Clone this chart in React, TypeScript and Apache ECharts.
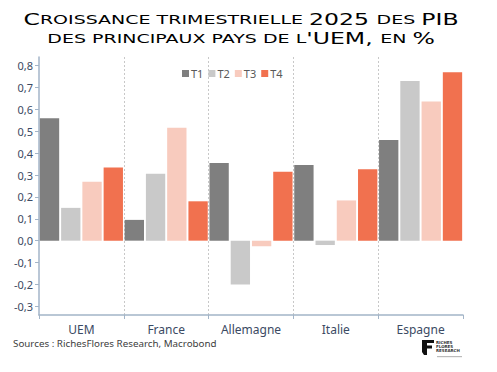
import React, { useEffect, useRef } from "react";
import * as echarts from "echarts";

const categories = ["UEM", "France", "Allemagne", "Italie", "Espagne"];
const seriesNames = ["T1", "T2", "T3", "T4"];
const t1 = [0.56, 0.095, 0.355, 0.346, 0.46];
const t2 = [0.15, 0.306, -0.2, -0.02, 0.73];
const t3 = [0.27, 0.516, -0.026, 0.184, 0.636];
const t4 = [0.335, 0.18, 0.315, 0.327, 0.77];
const yTicks = [-0.3, -0.2, -0.1, 0, 0.1, 0.2, 0.3, 0.4, 0.5, 0.6, 0.7, 0.8];
const colors = ["#7f7f7f", "#c9c9c9", "#f8cbbe", "#f1714f"];
const titleLine1 = "Croissance trimestrielle 2025 des PIB";
const titleLine2 = "des principaux pays de l'UEM, en %";
const sourceText = "Sources : RichesFlores Research, Macrobond";

function smallCaps(s: string): string {
  let out = "";
  let cur = "";
  let curStyle = "";
  for (const ch of s) {
    const isLower = ch !== ch.toUpperCase();
    const st = ch === " " ? curStyle || "s" : isLower ? "s" : "b";
    if (st !== curStyle && cur) {
      out += `{${curStyle}|${cur}}`;
      cur = "";
    }
    curStyle = st;
    cur += ch.toUpperCase();
  }
  if (cur) out += `{${curStyle}|${cur}}`;
  return out;
}

const titleRich = {
  b: { fontSize: 15.5, fontFamily: "DejaVu Sans", color: "#263c60", height: 19, verticalAlign: "bottom" },
  s: { fontSize: 12.5, fontFamily: "DejaVu Sans", color: "#263c60", height: 19, verticalAlign: "bottom" },
};

export default function App() {
  const ref = useRef<HTMLDivElement>(null);
  useEffect(() => {
    if (!ref.current) return;
    const chart = echarts.init(ref.current, undefined, { renderer: "svg" });
    const allSeries = [t1, t2, t3, t4];
    chart.setOption({
      animation: false,
      backgroundColor: "#ffffff",
      grid: { left: 39, right: 34, top: 57, bottom: 57, containLabel: false },
      legend: {
        data: seriesNames,
        left: 177,
        top: 63,
        icon: "rect",
        itemWidth: 7,
        itemHeight: 7,
        itemGap: 5,
        textStyle: { fontSize: 11, color: "#595959", fontFamily: "Noto Sans", padding: [0, 0, 0, -3] },
      },
      xAxis: {
        type: "category",
        data: categories,
        axisLine: { onZero: false, lineStyle: { color: "#a3b5c8", width: 1.5 } },
        axisTick: { show: true, interval: 0, length: 4, lineStyle: { color: "#a3b5c8" } },
        axisLabel: { fontSize: 12, color: "#3b4a63", fontFamily: "Noto Sans", margin: 8 },
        splitLine: {
          show: true,
          interval: 0,
          showMinLine: false,
          showMaxLine: false,
          lineStyle: { color: "#c8c8c8", type: [2, 2], width: 1 },
        },
      },
      yAxis: {
        type: "value",
        min: -0.34,
        max: 0.84,
        axisLine: { show: true, lineStyle: { color: "#a3b5c8", width: 1.5 } },
        axisTick: { show: true, length: 4, customValues: yTicks, lineStyle: { color: "#a3b5c8" } },
        splitLine: { show: false },
        axisLabel: {
          customValues: yTicks,
          fontSize: 11,
          color: "#3b4a63",
          fontFamily: "Noto Sans",
          margin: 6,
          formatter: (v: number) => v.toFixed(1).replace(".", ","),
        },
      },
      series: allSeries.map((d, i) => ({
        name: seriesNames[i],
        type: "bar",
        data: d,
        barCategoryGap: "2%",
        barGap: "10%",
        itemStyle: { color: colors[i] },
      })),
      graphic: [
        {
          type: "text",
          x: 241,
          y: 29,
          scaleX: 1.52,
          style: { text: smallCaps(titleLine1), rich: titleRich, align: "center", verticalAlign: "bottom" },
        },
        {
          type: "text",
          x: 241,
          y: 48,
          scaleX: 1.52,
          style: { text: smallCaps(titleLine2), rich: titleRich, align: "center", verticalAlign: "bottom" },
        },
        {
          type: "text",
          x: 13,
          y: 343,
          style: {
            text: sourceText,
            fontSize: 9.8,
            fontFamily: "Noto Sans",
            fill: "#404040",
            align: "left",
            verticalAlign: "middle",
          },
        },
        {
          type: "polygon",
          shape: {
            points: [
              [422, 340], [434, 340], [434, 343], [427, 343], [427, 345.5], [432, 345.5],
              [432, 348.5], [427, 348.5], [427, 355], [424, 355], [422, 352],
            ],
          },
          style: { fill: "#111111" },
        },
        {
          type: "text",
          x: 436,
          y: 340,
          style: {
            text: "RICHES\nFLORES\nRESEARCH",
            fontSize: 4,
            lineHeight: 4.2,
            fontFamily: "DejaVu Sans",
            fontWeight: "bold",
            fill: "#333333",
          },
        },
        {
          type: "rect",
          shape: { x: 437, y: 356, width: 25, height: 1.2 },
          style: { fill: "#bbbbbb" },
        },
      ],
    });
    return () => chart.dispose();
  }, []);
  return <div ref={ref} style={{ width: 497, height: 372, margin: -8 }} />;
}
